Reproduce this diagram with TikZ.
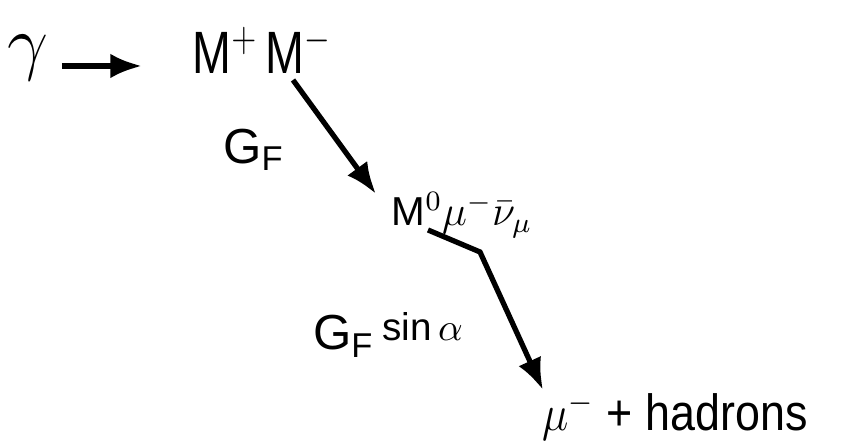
\documentclass[tikz,border=0pt]{standalone}
\usepackage{fontspec}
\setmainfont{Liberation Sans}
\usetikzlibrary{arrows.meta}
\begin{document}
\begin{tikzpicture}[
  lbl/.style={inner sep=0pt, font=\fontsize{17}{19}\selectfont},
  conn/.style={line width=1.5pt, -{Latex[length=9pt,width=7pt]}},
]
\useasboundingbox (0,0) rectangle (8.65,4.43);
\node[inner sep=0pt, font=\fontsize{22}{24}\selectfont] (g) at (0.28,3.85) {$\gamma$};
\node[lbl] (mm) at (2.62,3.93) {\scalebox{0.78}[1]{M$^{+}$\,M$^{-}$}};
\node[inner sep=0pt, font=\fontsize{14}{16}\selectfont] (gf) at (2.54,2.93) {G$_{\mathrm{F}}$};
\node[inner sep=0pt, font=\fontsize{11.5}{13}\selectfont] (m0) at (4.62,2.28) {M$^{0}\mu^{-}\bar{\nu}_{\mu}$};
\node[inner sep=0pt, font=\fontsize{14}{16}\selectfont] (gfs) at (3.88,1.08) {G$_{\mathrm{F}}$\,\raisebox{0.35ex}{\fontsize{11}{13}\selectfont sin$\,\alpha$}};
\node[inner sep=0pt, font=\fontsize{14.5}{16}\selectfont] (had) at (6.75,0.27) {\scalebox{0.88}[1]{$\mu^{-}$ + hadrons}};
\coordinate (a1s) at (0.62,3.77);
\coordinate (a1e) at (1.42,3.77);
\coordinate (a2s) at (2.93,3.63);
\coordinate (a2e) at (3.76,2.49);
\coordinate (a3s) at (4.28,2.13);
\coordinate (a3k) at (4.80,1.91);
\coordinate (a3e) at (5.43,0.53);
\draw[conn] (a1s) -- (a1e);
\draw[conn] (a2s) -- (a2e);
\draw[conn] (a3s) -- (a3k) -- (a3e);
\end{tikzpicture}
\end{document}
